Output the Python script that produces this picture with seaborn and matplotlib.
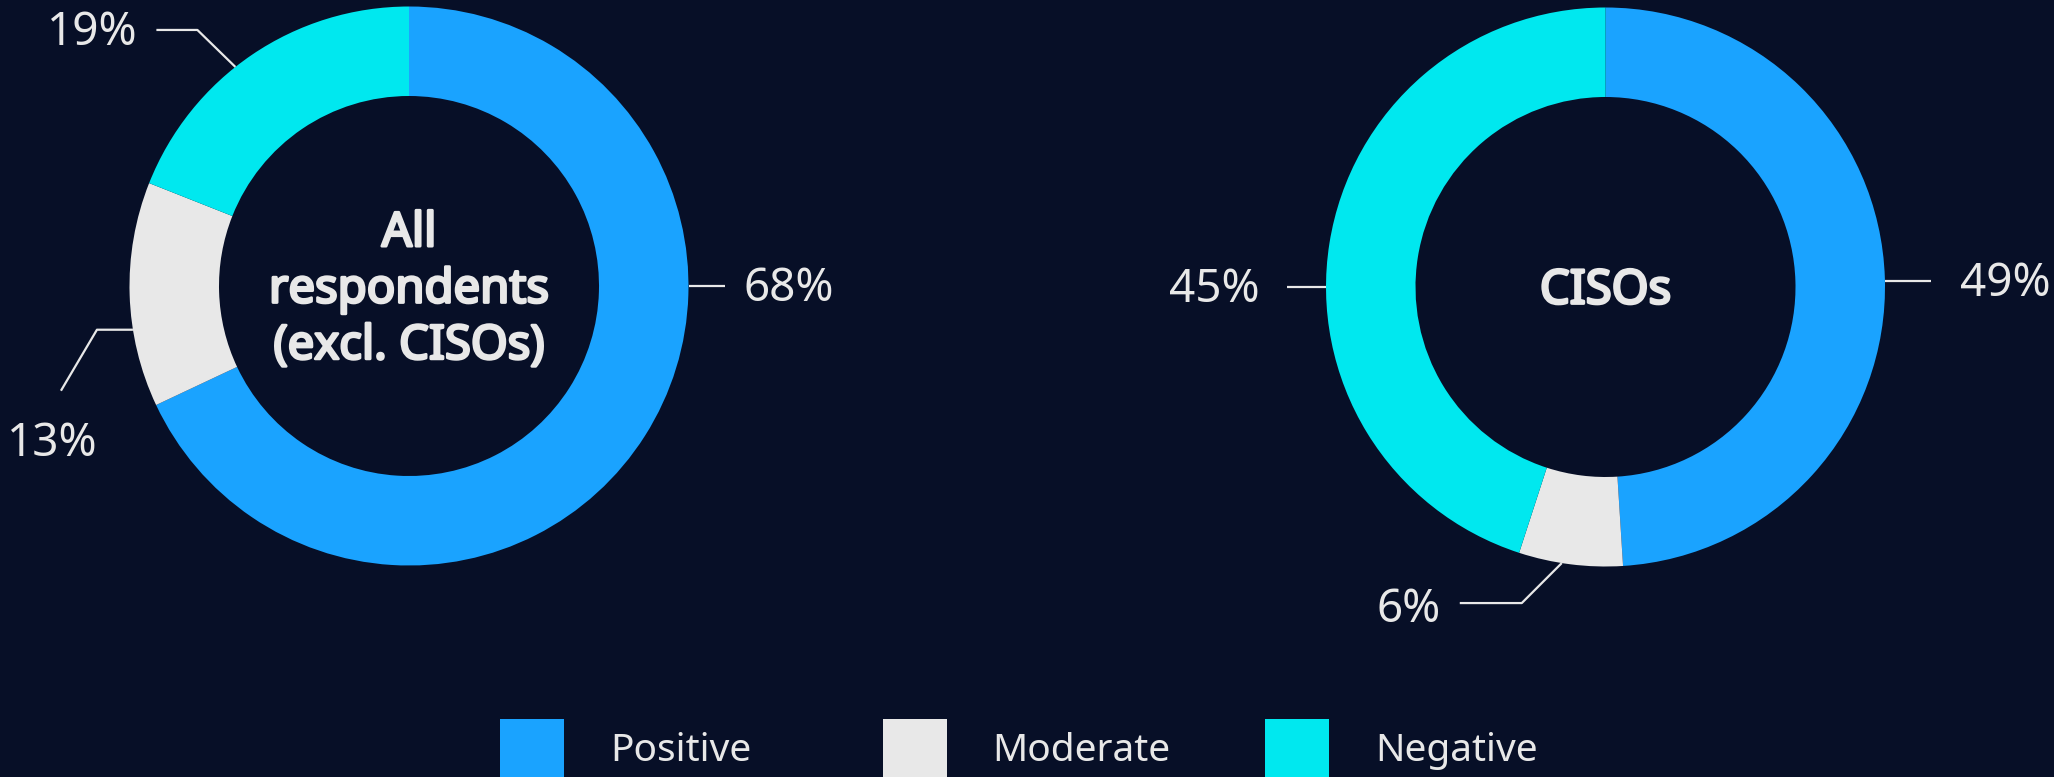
import numpy as np
import matplotlib
matplotlib.use("Agg")
import matplotlib.pyplot as plt
import matplotlib.patheffects as pe
from matplotlib.patches import Rectangle
import seaborn as sns

# ---- data -------------------------------------------------------------
categories = ["Positive", "Moderate", "Negative"]
group_titles = ["All\nrespondents\n(excl. CISOs)", "CISOs"]
all_respondents = [68, 13, 19]
cisos = [49, 6, 45]

# ---- style ------------------------------------------------------------
BG = "#070f27"
TXT = "#e8e8e8"
palette = sns.color_palette(["#1aa3ff", "#e8e8e8", "#00e8ef"])

sns.set_style("dark")
plt.rcParams["font.family"] = ["Noto Sans", "DejaVu Sans"]

W, H = 2054, 777
fig = plt.figure(figsize=(W / 100, H / 100), dpi=100, facecolor=BG)
ax = fig.add_axes([0, 0, 1, 1])
ax.set_facecolor(BG)

R_OUT = 279.5
RING = 89.5
centers = [(409, 491), (1605.5, 490)]
series = [all_respondents, cisos]

# heavier strokes for the titles in the donut holes
title_fx = [pe.withStroke(linewidth=2.0, foreground=TXT)]

# leader layout per donut: (anchor angle on rim, leader path offsets, text offset)
leaders = [
    [
        (0.0, [(36, 0)], (19, -3), "left"),
        (189.0, [(-36, 0), (-36, -61)], (-9, -53), "center"),
        (128.4, [(-38, 37), (-41, 0)], (-19, -3), "right"),
    ],
    [
        (1.2, [(46, 0)], (29, -3), "left"),
        (-99.0, [(-40, -40), (-62, 0)], (-19, -7), "right"),
        (180.0, [(-39, 0)], (-27, -3), "right"),
    ],
]

for (cx, cy), vals, title, lay in zip(centers, series, group_titles, leaders):
    ax.pie(vals, colors=palette, startangle=90, counterclock=False,
           center=(cx, cy), radius=R_OUT,
           wedgeprops=dict(width=RING, linewidth=0))
    ax.text(cx, cy - 4, title, ha="center", va="center", color=TXT,
            fontsize=34, linespacing=1.26, path_effects=title_fx)
    for v, (ang, path, toff, ha) in zip(vals, lay):
        a = np.deg2rad(ang)
        x, y = cx + R_OUT * np.cos(a), cy + R_OUT * np.sin(a)
        xs, ys = [x], [y]
        for dx, dy in path:
            x += dx
            y += dy
            xs.append(x)
            ys.append(y)
        ax.plot(xs, ys, color=TXT, lw=1.6, solid_capstyle="butt")
        ax.text(x + toff[0], y + toff[1], f"{v}%", ha=ha, va="center",
                color=TXT, fontsize=33)

# ---- legend -----------------------------------------------------------
leg_x0, leg_step, leg_y, box = 500, 382.5, 26, 64
for i, (cat, col) in enumerate(zip(categories, palette)):
    x = leg_x0 + i * leg_step
    ax.add_patch(Rectangle((x, leg_y - box / 2), box, box, facecolor=col,
                           edgecolor="none"))
    ax.text(x + box + 46, leg_y, cat, ha="left", va="center", color=TXT,
            fontsize=28)

ax.set_xlim(0, W)
ax.set_ylim(0, H)
ax.set_aspect("auto")
ax.axis("off")

fig.savefig("out.png", dpi=100, facecolor=BG)
